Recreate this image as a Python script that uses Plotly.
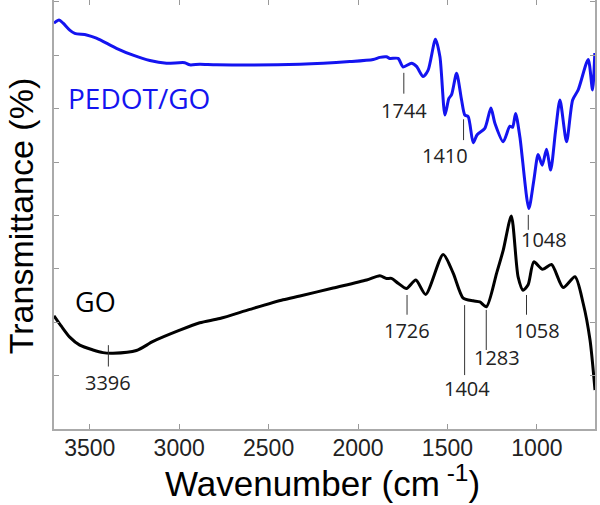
import plotly.graph_objects as go

# PEDOT/GO spectrum (wavenumber cm-1, transmittance a.u.)
pedot_wn = [3700, 3672, 3649, 3612, 3584, 3518, 3463, 3351, 3258, 3164, 3071, 2969, 2941, 2885, 2791,
            2325, 2046, 1915, 1878, 1841, 1822, 1776, 1748, 1701, 1673, 1636, 1608, 1567, 1542, 1514,
            1492, 1477, 1449, 1421, 1403, 1384, 1356, 1334, 1291, 1257, 1235, 1188, 1151, 1136, 1119,
            1095, 1045, 1017, 993, 970, 946, 923, 895, 871, 834, 800, 769, 713, 689, 676]
pedot_t = [7.60, 7.66, 7.60, 7.47, 7.41, 7.38, 7.32, 7.13, 7.00, 6.90, 6.85, 6.86, 6.82, 6.83, 6.82,
           6.83, 6.88, 6.92, 6.96, 6.97, 6.94, 6.94, 6.78, 6.85, 6.79, 6.60, 6.72, 7.30, 6.97, 5.88,
           6.19, 6.26, 6.66, 6.16, 5.88, 5.85, 5.36, 5.51, 5.63, 6.01, 5.73, 5.38, 5.67, 5.65, 5.91,
           5.47, 4.13, 4.66, 5.14, 4.94, 5.24, 4.85, 5.60, 6.16, 5.38, 6.16, 6.35, 6.92, 6.35, 7.04]

# GO spectrum
go_wn = [3700, 3658, 3612, 3556, 3482, 3426, 3370, 3239, 3146, 2997, 2885, 2773, 2605, 2419, 2325,
         2139, 1952, 1878, 1841, 1813, 1776, 1729, 1677, 1622, 1524, 1468, 1412, 1356, 1319, 1282,
         1225, 1188, 1143, 1105, 1077, 1049, 1017, 968, 918, 853, 787, 741, 703, 675]
go_t = [2.12, 1.92, 1.72, 1.57, 1.48, 1.43, 1.42, 1.47, 1.64, 1.85, 1.99, 2.07, 2.24, 2.42, 2.49,
        2.64, 2.79, 2.87, 2.82, 2.82, 2.73, 2.63, 2.79, 2.52, 3.27, 2.92, 2.45, 2.40, 2.38, 2.29,
        2.92, 3.35, 3.99, 2.85, 2.60, 2.70, 3.13, 2.99, 3.08, 2.65, 2.85, 2.35, 1.67, 0.73]

x_ticks = [3500, 3000, 2500, 2000, 1500, 1000]

# peak labels: text, line x, line y0, line y1, label x, label y
pedot_peaks = [("1744", 1744, 6.67, 6.28, 1744, 5.97),
               ("1410", 1410, 5.80, 5.41, 1512, 5.13),
               ("1048", 1048, 4.01, 3.73, 961, 3.54)]
go_peaks = [("3396", 3396, 1.57, 1.17, 3396, 0.87),
            ("1726", 1726, 2.51, 2.14, 1726, 1.84),
            ("1404", 1404, 2.32, 1.01, 1393, 0.76),
            ("1283", 1283, 2.23, 1.48, 1225, 1.34),
            ("1058", 1058, 2.51, 2.14, 1000, 1.84)]

BLUE = "#1414f0"

fig = go.Figure()
fig.add_trace(go.Scatter(x=pedot_wn, y=pedot_t, mode="lines",
                         line=dict(color=BLUE, width=3, shape="spline", smoothing=0.7),
                         showlegend=False, hoverinfo="skip"))
fig.add_trace(go.Scatter(x=go_wn, y=go_t, mode="lines",
                         line=dict(color="black", width=3, shape="spline", smoothing=0.7),
                         showlegend=False, hoverinfo="skip"))

shapes = []
annotations = []
for txt, lx, y0, y1, tx, ty in pedot_peaks + go_peaks:
    shapes.append(dict(type="line", xref="x", yref="y", x0=lx, x1=lx, y0=y0, y1=y1,
                       line=dict(color="#333333", width=1)))
    annotations.append(dict(x=tx, y=ty, xref="x", yref="y", text=txt, showarrow=False,
                            font=dict(family="Open Sans", size=20, color="#222222")))

annotations.append(dict(x=3226, y=6.20, xref="x", yref="y", text="PEDOT/GO", showarrow=False,
                        font=dict(family="Open Sans", size=28, color=BLUE)))
annotations.append(dict(x=3466, y=2.38, xref="x", yref="y", text="GO", showarrow=False,
                        font=dict(family="Open Sans", size=27, color="black")))

# axis titles
annotations.append(dict(x=0.496, y=-0.121, xref="paper", yref="paper", xanchor="center",
                        yanchor="middle", showarrow=False, text="Wavenumber (cm<sup> -1</sup>)",
                        font=dict(family="Liberation Sans", size=35, color="black")))
annotations.append(dict(x=-0.062, y=0.497, xref="paper", yref="paper", xanchor="center",
                        yanchor="middle", showarrow=False, text="Transmittance (%)", textangle=-90,
                        font=dict(family="Liberation Sans", size=34, color="black")))

fig.update_layout(
    width=600, height=505,
    margin=dict(l=54, r=5, t=0, b=76),
    paper_bgcolor="white", plot_bgcolor="white",
    shapes=shapes, annotations=annotations,
    xaxis=dict(range=[3700, 675], tickvals=x_ticks, ticktext=[str(v) for v in x_ticks],
               ticks="inside", ticklen=5, tickcolor="#999999", showline=True, linecolor="#aaaaaa",
               linewidth=1.5, mirror="allticks", showgrid=False, zeroline=False, automargin=False,
               ticklabelstandoff=-2,
               tickfont=dict(family="Liberation Sans", size=23, color="#222222")),
    yaxis=dict(range=[0, 8.034], dtick=1, tick0=0, showticklabels=False, automargin=False,
               ticks="inside", ticklen=5, tickcolor="#999999", showline=True, linecolor="#aaaaaa",
               linewidth=1.5, mirror="allticks", showgrid=False, zeroline=False),
)

fig.write_html("out.html", post_script="document.body.style.margin='0';",
               config={"displayModeBar": False})
